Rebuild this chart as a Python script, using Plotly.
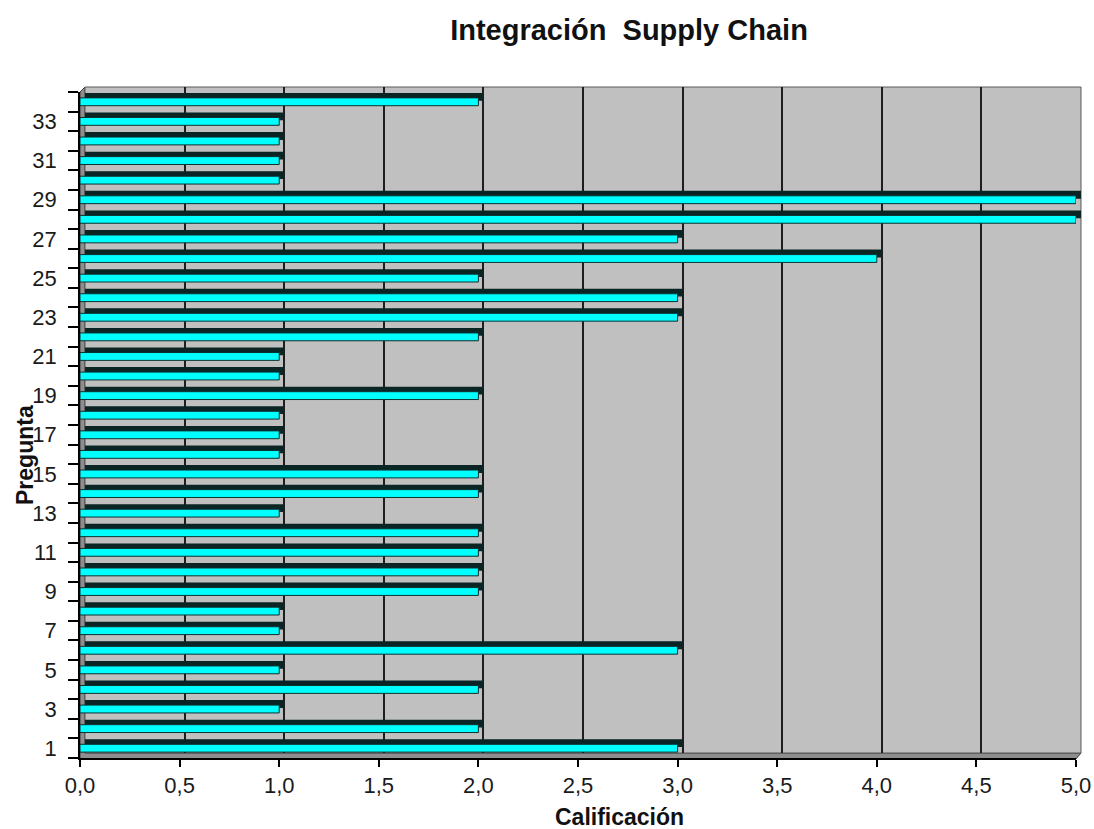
import plotly.graph_objects as go

# ---- data -------------------------------------------------------------
preguntas = list(range(1, 35))
calificacion = [3, 2, 1, 2, 1, 3, 1, 1, 2, 2, 2, 2, 1, 2, 2, 1, 1,
                1, 2, 1, 1, 2, 3, 3, 2, 4, 3, 5, 5, 1, 1, 1, 1, 2]
x_tick_vals = [0, 0.5, 1, 1.5, 2, 2.5, 3, 3.5, 4, 4.5, 5]
x_tick_text = ["0,0", "0,5", "1,0", "1,5", "2,0", "2,5", "3,0", "3,5", "4,0", "4,5", "5,0"]
y_tick_vals = list(range(1, 34, 2))
y_tick_text = [str(v) for v in y_tick_vals]

# ---- page geometry (pixels) ------------------------------------------
W, H = 1094, 829
FX0, FX1 = 80, 1076      # front plane: value 0 .. 5
FY0, FY1 = 758, 92       # front plane: category 0.5 .. 34.5
DEPTH = 5                # depth offset of the back plane (wall and bar tops)


def px(x):
    return x / W


def py(y):
    return 1 - y / H


FONT = "Liberation Sans, Arial, sans-serif"
CYAN = "#00FFFF"
DARK = "#0b2424"

fig = go.Figure()

# bar depth (top / end faces), drawn on the back plane over the wall grid
fig.add_trace(go.Bar(
    x=calificacion, y=preguntas, orientation="h", width=0.4,
    marker=dict(color=DARK, line=dict(width=0)),
    xaxis="x", yaxis="y", hoverinfo="skip", showlegend=False,
))
# bar front faces
fig.add_trace(go.Bar(
    x=calificacion, y=preguntas, orientation="h", width=0.4,
    marker=dict(color=CYAN, line=dict(color="#0d3030", width=1)),
    xaxis="x2", yaxis="y2", showlegend=False,
))

# floor / side strip as an L-shaped face between front and back planes
floor_pts = [(FX0, FY1), (FX0 + DEPTH, FY1 - DEPTH), (FX0 + DEPTH, FY0 - DEPTH),
             (FX1 + DEPTH, FY0 - DEPTH), (FX1, FY0 + 1), (FX0, FY0 + 1)]
floor_path = "M " + " L ".join(f"{px(a):.5f},{py(b):.5f}" for a, b in floor_pts) + " Z"

fig.update_layout(
    width=W, height=H,
    margin=dict(l=0, r=0, t=0, b=0),
    paper_bgcolor="white",
    plot_bgcolor="rgba(0,0,0,0)",
    barmode="overlay",
    font=dict(family=FONT, color="#1a1a1a"),
    title=dict(text="<b>Integración  Supply Chain</b>", x=px(629), y=py(30),
               xanchor="center", yanchor="middle",
               font=dict(family=FONT, size=29, color="#111")),
    # back plane: wall with its gridlines
    xaxis=dict(domain=[px(FX0 + DEPTH), px(FX1 + DEPTH)], range=[0, 5], anchor="y",
               showgrid=True, gridcolor="#1e1e1e", gridwidth=2,
               tickvals=x_tick_vals, showticklabels=False, ticks="",
               showline=False, zeroline=False, fixedrange=True),
    yaxis=dict(domain=[py(FY0 - DEPTH), py(FY1 - DEPTH)], range=[0.5, 34.5], anchor="x",
               showticklabels=False, ticks="", showline=False, zeroline=False,
               showgrid=False, fixedrange=True),
    # front plane with the visible axes
    xaxis2=dict(domain=[px(FX0), px(FX1)], range=[0, 5], anchor="y2",
                showline=True, linecolor="black", linewidth=1.5,
                ticks="outside", ticklen=7, tickcolor="black", tickwidth=1.5,
                tickvals=x_tick_vals, ticktext=x_tick_text,
                tickfont=dict(size=22, color="#1a1a1a"),
                showgrid=False, zeroline=False, automargin=False, fixedrange=True),
    yaxis2=dict(domain=[py(FY0), py(FY1)], range=[0.5, 34.5], anchor="x2",
                showline=True, linecolor="black", linewidth=1.5,
                ticks="outside", ticklen=17, tickcolor="rgba(0,0,0,0)",
                tickvals=y_tick_vals, ticktext=y_tick_text,
                tickfont=dict(size=22, color="#1a1a1a"),
                minor=dict(tickvals=[v + 0.5 for v in range(0, 35)], ticks="outside",
                           ticklen=10, tickcolor="black", tickwidth=1.5, showgrid=False),
                showgrid=False, zeroline=False, automargin=False, fixedrange=True),
    shapes=[
        dict(type="path", path=floor_path, xref="paper", yref="paper", layer="below",
             fillcolor="#8e8e8e", line=dict(color="#3a3a3a", width=1)),
        dict(type="rect", xref="x domain", yref="y domain", x0=0, x1=1, y0=0, y1=1,
             layer="below", fillcolor="#C0C0C0", line=dict(color="#5a5a5a", width=1)),
    ],
    annotations=[
        dict(text="<b>Pregunta</b>", x=px(25), y=py(455), xref="paper", yref="paper",
             textangle=-90, showarrow=False, xanchor="center", yanchor="middle",
             font=dict(family=FONT, size=23, color="#111")),
        dict(text="<b>Calificación</b>", x=px(619), y=py(817), xref="paper", yref="paper",
             showarrow=False, xanchor="center", yanchor="middle",
             font=dict(family=FONT, size=23, color="#111")),
    ],
)

fig.write_html("out.html")
